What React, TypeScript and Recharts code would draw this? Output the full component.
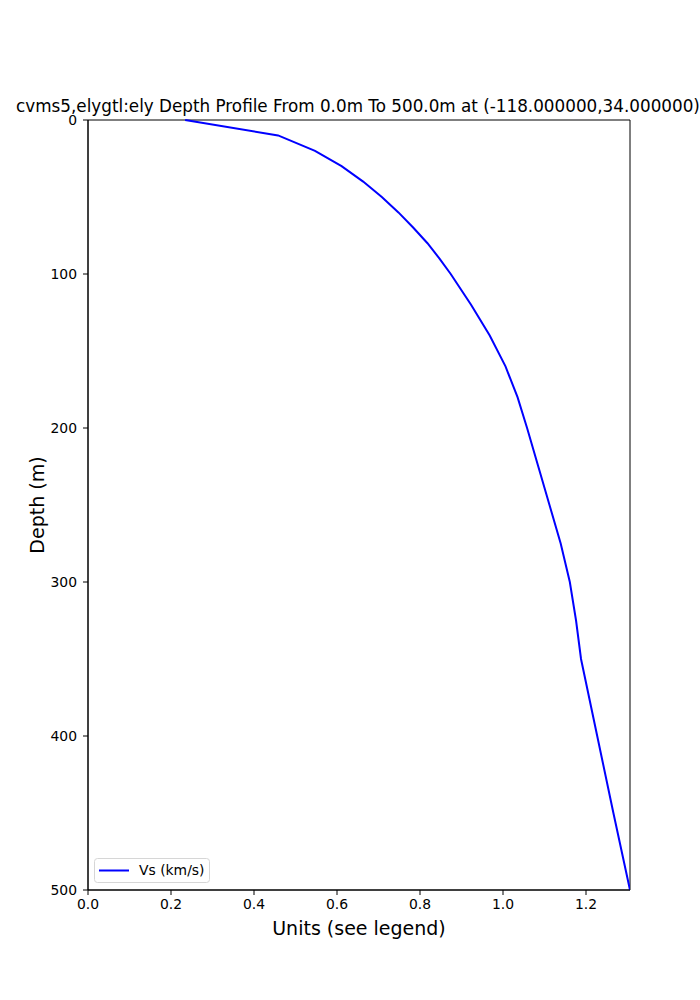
import React from "react";
import {
  LineChart,
  Line,
  XAxis,
  YAxis,
  ReferenceArea,
  Label,
} from "recharts";

const depths = [0, 10, 20, 30, 40, 50, 60, 70, 80, 90, 100, 120, 140, 160, 180, 200, 225, 250, 275, 300, 325, 350, 400, 450, 500];
const vsValues = [0.234, 0.458, 0.547, 0.611, 0.663, 0.708, 0.748, 0.784, 0.818, 0.847, 0.874, 0.923, 0.968, 1.006, 1.035, 1.058, 1.085, 1.112, 1.139, 1.161, 1.176, 1.188, 1.227, 1.266, 1.306];
const xTicks = [0, 0.2, 0.4, 0.6, 0.8, 1.0, 1.2];
const yTicks = [0, 100, 200, 300, 400, 500];
const xMax = 1.306;
const title = "cvms5,elygtl:ely Depth Profile From 0.0m To 500.0m at (-118.000000,34.000000)";
const seriesName = "Vs (km/s)";

const data = depths.map((d, i) => ({ depth: d, vs: vsValues[i] }));

const font = "'DejaVu Sans', sans-serif";

export default function App() {
  return (
    <div style={{ position: "absolute", left: 0, top: 0, width: 700, height: 1000, background: "#fff" }}>
      <LineChart
        width={700}
        height={1000}
        data={data}
        layout="vertical"
        margin={{ top: 120, right: 70, bottom: 80, left: 48 }}
      >
        <text x={358} y={112} textAnchor="middle" fontFamily={font} fontSize={16.8} fill="#000">
          {title}
        </text>
        <XAxis
          type="number"
          dataKey="vs"
          domain={[0, xMax]}
          ticks={xTicks}
          tickFormatter={(v: number) => v.toFixed(1)}
          allowDataOverflow
          height={30}
          tickSize={5}
          tickMargin={4}
          stroke="#000"
          tick={{ fill: "#000", fontFamily: font, fontSize: 13.9 }}
          tickLine={{ stroke: "#000" }}
          axisLine={{ stroke: "#000" }}
        >
          <Label
            value="Units (see legend)"
            position="insideBottom"
            offset={-15}
            style={{ fontFamily: font, fontSize: 19, fill: "#000" }}
          />
        </XAxis>
        <YAxis
          type="number"
          dataKey="depth"
          domain={[0, 500]}
          ticks={yTicks}
          width={40}
          tickSize={5}
          tickMargin={6}
          stroke="#000"
          tick={{ fill: "#000", fontFamily: font, fontSize: 13.9 }}
          tickLine={{ stroke: "#000" }}
          axisLine={{ stroke: "#000" }}
        >
          <Label
            value="Depth (m)"
            angle={-90}
            position="insideLeft"
            offset={-11}
            style={{ fontFamily: font, fontSize: 19, fill: "#000", textAnchor: "middle" }}
          />
        </YAxis>
        <ReferenceArea x1={0} x2={xMax} y1={0} y2={500} fill="none" stroke="#000" strokeWidth={1} ifOverflow="visible" />
        <Line
          type="linear"
          dataKey="vs"
          name={seriesName}
          stroke="#0000ff"
          strokeWidth={2}
          dot={false}
          activeDot={false}
          isAnimationActive={false}
        />
        <g>
          <rect x={94.5} y={858.5} width={115} height={24} rx={3} ry={3} fill="#fff" fillOpacity={0.8} stroke="#d6d6d6" />
          <line x1={99} y1={870.5} x2={129} y2={870.5} stroke="#0000ff" strokeWidth={2} />
          <text x={139} y={875} fontFamily={font} fontSize={13.9} fill="#000">{seriesName}</text>
        </g>
      </LineChart>
    </div>
  );
}
